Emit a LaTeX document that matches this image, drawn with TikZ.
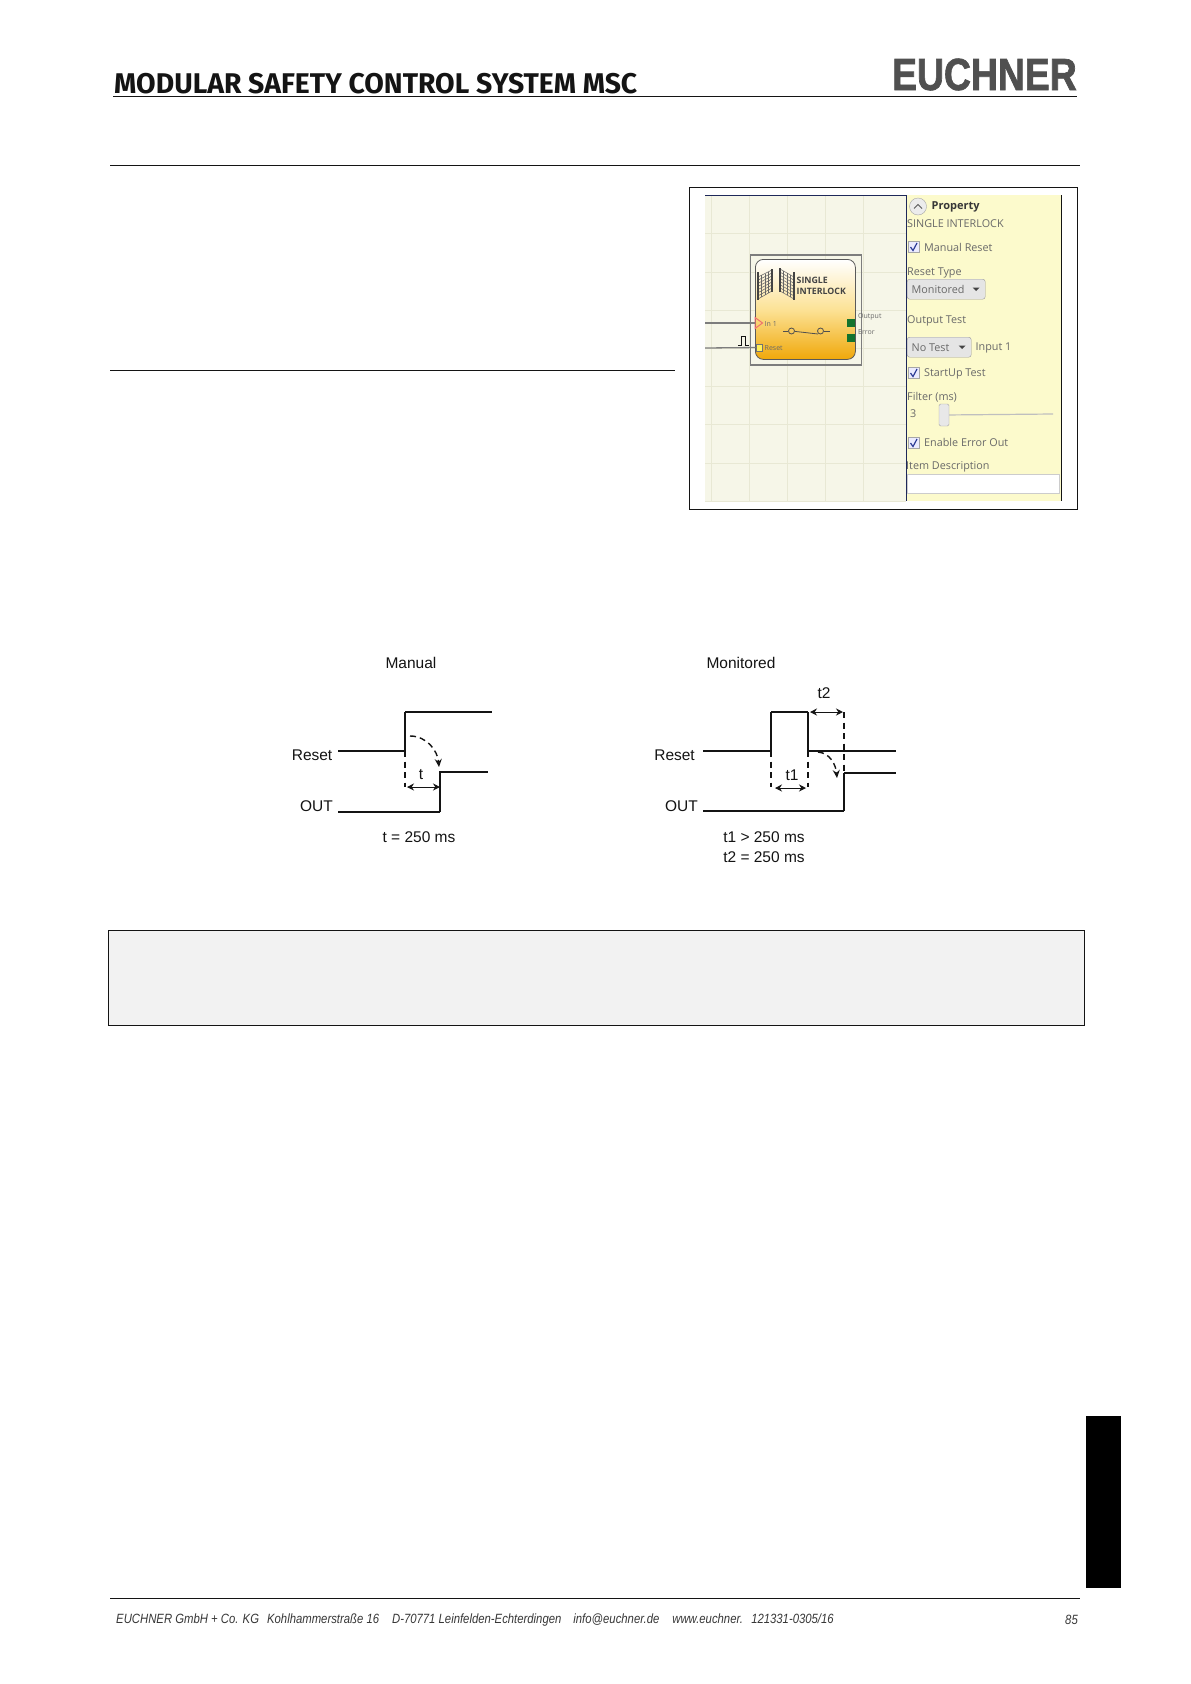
\documentclass[tikz,border=0pt]{standalone}
\usepackage{xcolor}
\usepackage{fontspec}
\usetikzlibrary{arrows.meta,calc,positioning}
\setmainfont{Liberation Sans}
\newfontfamily\titlefont[FakeStretch=0.995]{Fira Sans}
\newfontfamily\logofont[FakeStretch=0.83,FakeBold=1.5]{Liberation Sans}
\newfontfamily\footfont[FakeStretch=0.845]{Liberation Sans}
\newfontfamily\uifont{Open Sans}
\definecolor{ink}{RGB}{20,20,20}
\definecolor{logogray}{RGB}{80,80,80}
\definecolor{notefill}{RGB}{242,242,242}
\definecolor{gridfill}{RGB}{246,246,232}
\definecolor{gridline}{RGB}{232,232,212}
\definecolor{panelfill}{RGB}{252,250,204}
\definecolor{uitext}{RGB}{105,105,105}
\definecolor{wiregray}{RGB}{125,125,125}
\definecolor{navyline}{RGB}{30,40,90}
\definecolor{blockorange}{RGB}{240,168,10}
\definecolor{blockmid}{RGB}{252,226,150}
\definecolor{portgreen}{RGB}{20,115,45}
\definecolor{portyellow}{RGB}{255,240,90}
\definecolor{portred}{RGB}{240,110,110}
\definecolor{checkblue}{RGB}{45,60,150}
\def\FxR{338}
\def\FxS{405}
\def\FxT{440}
\def\FxM{703}
\def\FxA{771}
\def\FxB{808}
\def\FxC{844}
\tikzset{
  rulerline/.style={line width=1pt, draw=ink},
  lbl/.style={font=\fontsize{15.5}{18}\selectfont, text=ink, inner sep=0pt},
  sigthin/.style={line width=1.05pt, draw=ink},
  sigedge/.style={line width=1.5pt, draw=ink},
  sigthick/.style={line width=2pt, draw=ink},
  guide/.style={line width=1.3pt, draw=ink, dash pattern=on 6pt off 4.5pt},
  span/.style={{Stealth[length=7pt,width=7pt]}-{Stealth[length=7pt,width=7pt]}, line width=1pt, draw=ink},
  flow/.style={-{Stealth[length=8pt,width=7pt]}, line width=1.4pt, draw=ink, dash pattern=on 6pt off 4pt},
  uilbl/.style={anchor=west, font=\uifont\fontsize{10.8}{13}\selectfont, text=uitext, inner sep=0pt},
  portlbl/.style={anchor=west, font=\uifont\fontsize{7}{9}\selectfont, text=uitext, inner sep=0pt},
  chk/.style={draw=gray!70, fill=blue!8, minimum size=11pt, inner sep=0pt},
  tick/.style={line width=1.2pt, draw=checkblue},
  combo/.style={draw=gray!80, fill=gray!20, rounded corners=2.5pt, inner sep=0pt, anchor=north west},
  wire/.style={line width=1.3pt, draw=wiregray},
  gate/.style={line width=.55pt, draw=ink!65},
  post/.style={line width=1.3pt, draw=ink!80},
}
\begin{document}
\begin{tikzpicture}[x=1pt,y=-1pt]
  \useasboundingbox (0,0) rectangle (1191,1684);
  \fill[white] (0,0) rectangle (1191,1684);

  \node[anchor=base west, inner sep=0pt, font=\titlefont\bfseries\fontsize{28.5}{32}\selectfont, text=ink] (title) at (114,93) {MODULAR SAFETY CONTROL SYSTEM MSC};
  \node[anchor=base east, inner sep=0pt, font=\logofont\bfseries\fontsize{45}{50}\selectfont, text=logogray] (logo) at (1077,90) {EUCHNER};
  \draw[rulerline] (113,96.6) -- (1077,96.6);
  \draw[rulerline] (110,165.5) -- (1080,165.5);
  \draw[rulerline] (110,370.5) -- (675,370.5);

  \node[draw=ink, line width=1.1pt, anchor=north west, minimum width=388pt, minimum height=322pt, inner sep=0pt] (shot) at (689,187) {};
  \fill[gridfill] (705,195) rectangle (906,501);
  \foreach \gx in {711,749,787,825,863}
    \draw[gridline, line width=.8pt] (\gx,195) -- (\gx,501);
  \foreach \gy in {233,272,310,348,386,424,463,501}
    \draw[gridline, line width=.8pt] (705,\gy) -- (906,\gy);
  \fill[panelfill] (906,195) rectangle (1061.5,501);
  \draw[navyline, line width=.9pt] (705,195) -- (906,195) -- (906,501);
  \draw[ink, line width=.9pt] (1061.5,195) -- (1061.5,501);

  \node[draw=wiregray, line width=1.6pt, anchor=north west, minimum width=111pt, minimum height=110pt, inner sep=0pt] (blockframe) at (749.5,254) {};
  \node[draw=ink!70, line width=.8pt, rounded corners=8pt, anchor=north west, minimum width=100pt, minimum height=100pt, inner sep=0pt,
    top color=white, bottom color=blockorange, middle color=blockmid] (block) at (755,259) {};

  \draw[gate] (758,277) -- (772,270) (758,299) -- (772,291);
  \foreach \gi in {0,...,4}
    \draw[gate] ($(758,277)!\gi/4!(772,270)$) -- ($(758,299)!\gi/4!(772,291)$);
  \foreach \gi in {1,...,6}
    \draw[gate] ($(758,277)!\gi/7!(758,299)$) -- ($(772,270)!\gi/7!(772,291)$);
  \draw[post] (758,272) -- (758,300);
  \draw[post] (772,269) -- (772,292);
  \draw[gate] (780,269) -- (794,277) (780,291) -- (794,299);
  \foreach \gi in {0,...,4}
    \draw[gate] ($(780,269)!\gi/4!(794,277)$) -- ($(780,291)!\gi/4!(794,299)$);
  \foreach \gi in {1,...,6}
    \draw[gate] ($(780,269)!\gi/7!(780,291)$) -- ($(794,277)!\gi/7!(794,299)$);
  \draw[post] (780,268) -- (780,292);
  \draw[post] (794,272) -- (794,300);

  \node[anchor=west, inner sep=0pt, align=left, font=\uifont\bfseries\fontsize{8.8}{11}\selectfont, text=ink!80] (blockname) at (796.5,285.5) {SINGLE\\INTERLOCK};

  \node[inner sep=0pt, minimum size=0pt] (in1pin) at (755,323) {};
  \draw[portred, line width=1pt] (755,317.5) -- (762.5,323) -- (755,328.5) -- cycle;
  \coordinate (in1start) at (705,323);
  \draw[wire] (in1start) -- (in1pin);
  \node[draw=ink!60, fill=portyellow, line width=.5pt, minimum size=6.5pt, inner sep=0pt] (resetpin) at (759,347.5) {};
  \coordinate (resetstart) at (705,348);
  \draw[wire] (resetstart) -- (resetpin);
  \draw[line width=1pt, draw=ink] (738,345) -- (741,345) -- (741,336) -- (745,336) -- (745,345) -- (749,345);
  \node[portlbl] (in1lbl) at (764.5,323.5) {In 1};
  \node[portlbl] (resetlbl) at (764.5,348.5) {Reset};
  \node[portlbl] (outputlbl) at (858,317) {Output};
  \node[portlbl] (errorlbl) at (858,332) {Error};
  \node[fill=portgreen, minimum size=7.5pt, inner sep=0pt] (outputpin) at (851,323) {};
  \node[fill=portgreen, minimum size=7.5pt, inner sep=0pt] (errorpin) at (851,338) {};

  \node[draw=ink!75, line width=.8pt, circle, minimum size=6pt, inner sep=0pt] (contacta) at (791.5,331) {};
  \node[draw=ink!75, line width=.8pt, circle, minimum size=6pt, inner sep=0pt] (contactb) at (820.5,331) {};
  \coordinate (contactl) at (783,331);
  \coordinate (contactr) at (830,331);
  \coordinate (contactm) at (818,334);
  \draw[line width=.8pt, draw=ink!75] (contactl) -- (contacta);
  \draw[line width=.8pt, draw=ink!75] (contactb) -- (contactr);
  \draw[line width=.8pt, draw=ink!75] (contacta) -- (contactm);

  \node[draw=gray!70, fill=gray!15, circle, minimum size=17pt, inner sep=0pt] (collapse) at (918,206.5) {};
  \draw[line width=1pt, draw=ink!70] (914,208.5) -- (918,204.5) -- (922,208.5);
  \node[anchor=west, inner sep=0pt, font=\uifont\bfseries\fontsize{11}{13}\selectfont, text=ink!85] (proplbl) at (931.5,207) {Property};
  \node[uilbl] (namelbl) at (907,224) {SINGLE INTERLOCK};
  \node[chk] (chkmanual) at (914,247) {};
  \draw[tick] (910.5,247) -- (913,250.5) -- (917,243);
  \node[uilbl] (manuallbl) at (924,247) {Manual Reset};
  \node[uilbl] (resettypelbl) at (907,273) {Reset Type};
  \node[combo, minimum width=78pt, minimum height=20pt] (combotype) at (907,279) {};
  \node[uilbl] (monitoredlbl) at (911.5,289) {Monitored};
  \fill[ink!80] (972.5,287.5) -- (979.5,287.5) -- (976,291) -- cycle;
  \node[uilbl] (outputtestlbl) at (907,321) {Output Test};
  \node[combo, minimum width=64pt, minimum height=20pt] (combotest) at (907,337) {};
  \node[uilbl] (notestlbl) at (911.5,348) {No Test};
  \fill[ink!80] (958.5,345.5) -- (965.5,345.5) -- (962,349) -- cycle;
  \node[uilbl] (inputlbl) at (975.5,348) {Input 1};
  \node[chk] (chkstartup) at (914,373) {};
  \draw[tick] (910.5,373) -- (913,376.5) -- (917,369);
  \node[uilbl] (startuplbl) at (924,374) {StartUp Test};
  \node[uilbl] (filterlbl) at (907,397) {Filter (ms)};
  \node[uilbl] (filtervalue) at (910,414) {3};
  \node[draw=gray!70, fill=gray!18, rounded corners=1.5pt, minimum width=10pt, minimum height=22pt, inner sep=0pt] (thumb) at (944,415) {};
  \coordinate (trackend) at (1053,414);
  \draw[gray!50, line width=1.2pt] (thumb) -- (trackend);
  \node[chk] (chkerror) at (914,443) {};
  \draw[tick] (910.5,443) -- (913,446.5) -- (917,439);
  \node[uilbl] (errorenlbl) at (924,442.5) {Enable Error Out};
  \node[uilbl] (itemlbl) at (906,467) {Item Description};
  \node[draw=gray!40, fill=white, anchor=north west, minimum width=152pt, minimum height=19pt, inner sep=0pt] (itembox) at (907,474) {};

  \node[lbl] (mantitle) at (411,663) {Manual};
  \node[lbl, anchor=east] (manreset) at (332.5,755) {Reset};
  \node[lbl, anchor=east] (manout) at (333,806) {OUT};
  \node[lbl] (mant) at (421,775) {t};
  \node[lbl] (mancap) at (419,837) {t = 250 ms};
  \coordinate (mr0) at (\FxR,751);
  \coordinate (mr1) at (\FxS,751);
  \coordinate (mr2) at (\FxS,712);
  \coordinate (mr3) at (492,712);
  \coordinate (mr4) at (\FxS,787);
  \coordinate (mo0) at (\FxR,812);
  \coordinate (mo1) at (\FxT,812);
  \coordinate (mo2) at (\FxT,772);
  \coordinate (mo3) at (488,772);
  \coordinate (ma0) at (407,787);
  \coordinate (ma1) at (\FxT,787);
  \coordinate (mc0) at (410,736);
  \coordinate (mc1) at (439,767);
  \draw[sigthin] (mr0) -- (mr1);
  \draw[sigedge] (mr1) -- (mr2);
  \draw[sigthick] (mr2) -- (mr3);
  \draw[guide] (mr1) -- (mr4);
  \draw[sigthin] (mo0) -- (mo1);
  \draw[sigedge] (mo1) -- (mo2) -- (mo3);
  \draw[span] (ma0) -- (ma1);
  \draw[flow] (mc0) to[out=0, in=95] (mc1);

  \node[lbl] (montitle) at (741,663) {Monitored};
  \node[lbl, anchor=east] (monreset) at (695,755) {Reset};
  \node[lbl, anchor=east] (monout) at (698,806) {OUT};
  \node[lbl] (mont1) at (792,775) {t1};
  \node[lbl] (mont2) at (824,693) {t2};
  \node[lbl] (moncapa) at (764,837) {t1 > 250 ms};
  \node[lbl] (moncapb) at (764,857) {t2 = 250 ms};
  \coordinate (nr0) at (\FxM,751);
  \coordinate (nr1) at (\FxA,751);
  \coordinate (nr2) at (\FxA,712);
  \coordinate (nr3) at (\FxB,712);
  \coordinate (nr4) at (\FxB,751);
  \coordinate (nr5) at (896,751);
  \coordinate (nd1) at (\FxA,787);
  \coordinate (nd2) at (\FxB,787);
  \coordinate (nd3) at (\FxC,712);
  \coordinate (nd4) at (\FxC,773);
  \coordinate (no0) at (\FxM,811);
  \coordinate (no1) at (\FxC,811);
  \coordinate (no2) at (\FxC,773);
  \coordinate (no3) at (896,773);
  \coordinate (na0) at (775,788);
  \coordinate (na1) at (806,788);
  \coordinate (nb0) at (810,712);
  \coordinate (nb1) at (843,712);
  \coordinate (nc0) at (818,752);
  \coordinate (nc1) at (837,778);
  \draw[sigthin] (nr0) -- (nr1);
  \draw[sigedge] (nr1) -- (nr2);
  \draw[sigthick] (nr2) -- (nr3);
  \draw[sigedge] (nr3) -- (nr4);
  \draw[sigthin] (nr4) -- (nr5);
  \draw[guide] (nr1) -- (nd1);
  \draw[guide] (nr4) -- (nd2);
  \draw[guide] (nd3) -- (nd4);
  \draw[sigthick] (no0) -- (no1);
  \draw[sigedge] (no1) -- (no2);
  \draw[sigthick] (no2) -- (no3);
  \draw[span] (na0) -- (na1);
  \draw[span] (nb0) -- (nb1);
  \draw[flow] (nc0) to[out=-5, in=95] (nc1);

  \node[draw=ink, line width=.9pt, fill=notefill, anchor=north west, minimum width=976pt, minimum height=95pt, inner sep=0pt] (notebox) at (108,930) {};

  \node[fill=black, anchor=north west, minimum width=35pt, minimum height=172pt, inner sep=0pt] (tab) at (1086,1416) {};

  \draw[rulerline] (110,1598.5) -- (1080,1598.5);
  \node[anchor=west, inner sep=0pt, font=\footfont\itshape\fontsize{13.4}{16}\selectfont, text=ink!85] (footer) at (116,1620) {EUCHNER GmbH + Co. KG\hspace{8pt}Kohlhammerstraße 16\hspace{13pt}D-70771 Leinfelden-Echterdingen\hspace{12pt}info@euchner.de\hspace{13pt}www.euchner.\hspace{2pt} \hspace{2pt}121331-0305/16};
  \node[anchor=east, inner sep=0pt, font=\footfont\itshape\fontsize{13.4}{16}\selectfont, text=ink!85] (pageno) at (1078,1620) {85};
\end{tikzpicture}
\end{document}
